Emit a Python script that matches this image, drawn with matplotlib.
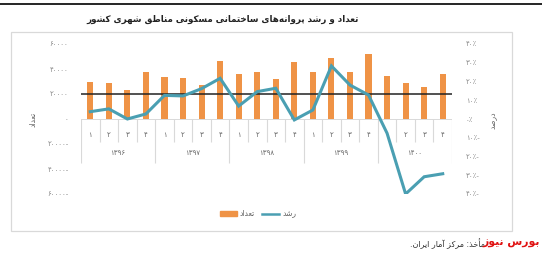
import matplotlib
matplotlib.use('Agg')
import matplotlib.pyplot as plt
from matplotlib.patches import Rectangle, Patch
from matplotlib.lines import Line2D

# Data (quarters 1396 Q1 .. 1400 Q4)
years = ['۱۳۹۶', '۱۳۹۷', '۱۳۹۸', '۱۳۹۹', '۱۴۰۰']
quarters = ['۱', '۲', '۳', '۴']
counts = [29400, 29000, 23200, 37600, 33900, 32800, 27200, 46100, 36000, 37600,
          31700, 45600, 37600, 48500, 37600, 51700, 34100, 28800, 25900, 36300]
growth = [3.9, 5.4, 0.0, 2.7, 12.6, 12.3, 16.2, 21.7, 6.9, 14.6,
          16.4, -0.5, 4.8, 28.3, 18.1, 12.8, -7.6, -40.0, -30.8, -29.2]
ref_level = 20000

left_ticks = [60000, 40000, 20000, 0, -20000, -40000, -60000]
left_labels = ['۶۰۰۰۰', '۴۰۰۰۰', '۲۰۰۰۰', '۰', '۲۰۰۰۰-', '۴۰۰۰۰-', '۶۰۰۰۰-']
right_ticks = [40, 30, 20, 10, 0, -10, -20, -30, -40]
right_labels = ['۴۰٪', '۳۰٪', '۲۰٪', '۱۰٪', '۰٪', '۱۰٪-', '۲۰٪-', '۳۰٪-', '۴۰٪-']

title = 'تعداد و رشد پروانه\u200cهای ساختمانی مسکونی مناطق شهری کشور'
source = 'مأخذ: مرکز آمار ایران.'

BAR_COLOR = '#EF9346'
LINE_COLOR = '#4A9FB2'
GRID = '#d9d9d9'
TXT = '#8a8a8a'

# matplotlib does no Arabic shaping, so map letters to presentation forms
FORMS = {
    'ا': ('\uFE8D', '\uFE8E'), 'آ': ('\uFE81', '\uFE82'), 'أ': ('\uFE83', '\uFE84'),
    'د': ('\uFEA9', '\uFEAA'), 'ذ': ('\uFEAB', '\uFEAC'), 'ر': ('\uFEAD', '\uFEAE'),
    'ز': ('\uFEAF', '\uFEB0'), 'ژ': ('\uFB8A', '\uFB8B'), 'و': ('\uFEED', '\uFEEE'),
    'ب': ('\uFE8F', '\uFE90', '\uFE91', '\uFE92'), 'پ': ('\uFB56', '\uFB57', '\uFB58', '\uFB59'),
    'ت': ('\uFE95', '\uFE96', '\uFE97', '\uFE98'), 'ج': ('\uFE9D', '\uFE9E', '\uFE9F', '\uFEA0'),
    'خ': ('\uFEA5', '\uFEA6', '\uFEA7', '\uFEA8'), 'س': ('\uFEB1', '\uFEB2', '\uFEB3', '\uFEB4'),
    'ش': ('\uFEB5', '\uFEB6', '\uFEB7', '\uFEB8'), 'ص': ('\uFEB9', '\uFEBA', '\uFEBB', '\uFEBC'),
    'ط': ('\uFEC1', '\uFEC2', '\uFEC3', '\uFEC4'), 'ع': ('\uFEC9', '\uFECA', '\uFECB', '\uFECC'),
    'ق': ('\uFED5', '\uFED6', '\uFED7', '\uFED8'), 'ک': ('\uFB8E', '\uFB8F', '\uFB90', '\uFB91'),
    'ل': ('\uFEDD', '\uFEDE', '\uFEDF', '\uFEE0'), 'م': ('\uFEE1', '\uFEE2', '\uFEE3', '\uFEE4'),
    'ن': ('\uFEE5', '\uFEE6', '\uFEE7', '\uFEE8'), 'ه': ('\uFEE9', '\uFEEA', '\uFEEB', '\uFEEC'),
    'ی': ('\uFBFC', '\uFBFD', '\uFBFE', '\uFBFF'),
}


def fa(text):
    out = []
    for i, c in enumerate(text):
        if c not in FORMS:
            out.append(c)
            continue
        f = FORMS[c]
        prev = text[i - 1] if i > 0 else ''
        nxt = text[i + 1] if i + 1 < len(text) else ''
        jp = prev in FORMS and len(FORMS[prev]) == 4
        jn = len(f) == 4 and nxt in FORMS
        if jp and jn:
            out.append(f[3])
        elif jp:
            out.append(f[1])
        elif jn:
            out.append(f[2])
        else:
            out.append(f[0])
    return ''.join(out).replace('\u200c', '')[::-1]


plt.rcParams['font.family'] = ['DejaVu Sans']

W, H = 542, 257
fig = plt.figure(figsize=(W / 100, H / 100), dpi=100)

# frame and top rule
fig.add_artist(Line2D([0, 1], [1 - 4 / H, 1 - 4 / H], color='black', lw=1.2))
fig.add_artist(Rectangle((11 / W, 1 - 231 / H), 501 / W, 199 / H, fill=False,
                         edgecolor=GRID, lw=0.9))

ax = fig.add_axes([81 / W, 1 - 194 / H, 371 / W, 150 / H])
ax2 = ax.twinx()

x = list(range(len(counts)))
ax.bar(x, counts, width=0.33, color=BAR_COLOR, zorder=2)
ax.axhline(ref_level, color='#222222', lw=1.1, zorder=3)
ax.axhline(0, color=GRID, lw=0.7, zorder=1)
ax2.plot(x, growth, color=LINE_COLOR, lw=2.2, solid_joinstyle='miter')

ax.set_xlim(-0.5, len(counts) - 0.5)
ax.set_ylim(-60000, 60000)
ax2.set_ylim(-40, 40)

ax.set_yticks(left_ticks)
ax.set_yticklabels(left_labels)
ax2.set_yticks(right_ticks)
ax2.set_yticklabels(right_labels)
ax.set_xticks([])
for a in (ax, ax2):
    for s in a.spines.values():
        s.set_visible(False)
    a.tick_params(axis='y', length=0, labelsize=5, labelcolor=TXT)
ax.tick_params(axis='y', pad=9)
ax2.tick_params(axis='y', pad=10)
ax.patch.set_visible(False)

# multi-level category axis
n = len(counts)
for i in range(n + 1):
    bottom = -35000 if i % 4 == 0 else -18000
    ax.vlines(i - 0.5, bottom, 0, color=GRID, lw=0.8, zorder=1)
for i in range(n):
    ax.annotate(quarters[i % 4], xy=(i, 0), xytext=(0, -16 * 0.72),
                textcoords='offset points', ha='center', va='center',
                fontsize=5, color='#666666')
for k, yr in enumerate(years):
    ax.annotate(yr, xy=(k * 4 + 1.5, 0), xytext=(0, -34 * 0.72),
                textcoords='offset points', ha='center', va='center',
                fontsize=5, color='#666666')

fig.text(33 / W, 1 - 119 / H, fa('تعداد'), rotation=90, ha='center', va='center',
         fontsize=5.5, color='#666666')
fig.text(493 / W, 1 - 120 / H, fa('درصد'), rotation=90, ha='center', va='center',
         fontsize=5.5, color='#666666')

fig.text(223 / W, 1 - 19 / H, fa(title), ha='center', va='center',
         fontsize=6.3, fontweight='bold', color='#222222')

handles = [Patch(facecolor=BAR_COLOR, edgecolor=BAR_COLOR),
           Line2D([], [], color=LINE_COLOR, lw=1.8)]
fig.legend(handles, [fa('تعداد'), fa('رشد')], loc='center',
           bbox_to_anchor=(258 / W, 1 - 214 / H), ncol=2, frameon=False,
           fontsize=5.5, labelcolor='#666666', handlelength=2.2,
           handleheight=0.6, columnspacing=1.0, handletextpad=0.4)

fig.text(485 / W, 1 - 244 / H, fa(source), ha='right', va='center',
         fontsize=5.8, color='#333333')
fig.text(540 / W, 1 - 243 / H, fa('بورس نیوز'), ha='right', va='center',
         fontsize=7.8, fontweight='bold', color='#e01010')

fig.savefig('out.png', dpi=100)
